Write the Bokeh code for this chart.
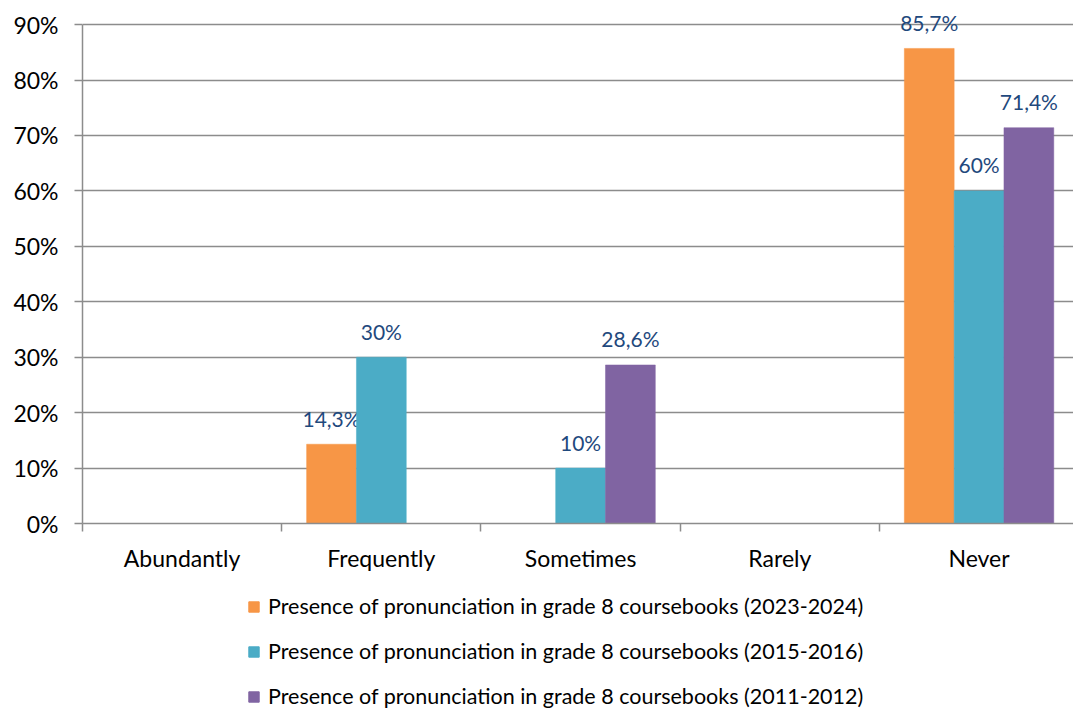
from bokeh.plotting import figure
from bokeh.layouts import column
from bokeh.models import Range1d, FixedTicker, Legend, LegendItem, ColumnDataSource
from bokeh.core.properties import value
from bokeh.embed import file_html
from bokeh.resources import INLINE

# Frequency categories on the x axis
categories = ["Abundantly", "Frequently", "Sometimes", "Rarely", "Never"]

# Share of coursebooks (%) per frequency category
share_2023_2024 = [0, 14.3, 0, 0, 85.7]
share_2015_2016 = [0, 30, 10, 0, 60]
share_2011_2012 = [0, 0, 28.6, 0, 71.4]

series_labels = [
    "Presence of pronunciation in grade 8 coursebooks (2023-2024)",
    "Presence of pronunciation in grade 8 coursebooks (2015-2016)",
    "Presence of pronunciation in grade 8 coursebooks (2011-2012)",
]
series_values = [share_2023_2024, share_2015_2016, share_2011_2012]
series_colors = ["#F79646", "#4BACC6", "#8064A2"]

y_ticks = [0, 10, 20, 30, 40, 50, 60, 70, 80, 90]

FONT = "Lato"
GRID = "#8C8C8C"
LABEL_COLOR = "#1F497D"
BAR_W = 0.25

p = figure(
    width=1073, height=590,
    x_range=Range1d(0, 4.974), y_range=Range1d(0, 92),
    output_backend="svg", toolbar_location=None,
    min_border_top=13, min_border_left=82, min_border_right=0, min_border_bottom=67,
    outline_line_color=None, background_fill_color="white", border_fill_color="white",
)

# y axis: percentages, line only up to the top tick
p.yaxis.ticker = FixedTicker(ticks=y_ticks, minor_ticks=[])
p.yaxis.bounds = (0, 90)
p.yaxis.major_label_overrides = {t: f"{t}%" for t in y_ticks}
p.yaxis.major_tick_out = 8
p.yaxis.major_tick_in = 0
p.yaxis.major_tick_line_color = GRID
p.yaxis.major_tick_line_width = 1.5
p.yaxis.axis_line_color = GRID
p.yaxis.axis_line_width = 1.5
p.yaxis.major_label_standoff = 16
p.yaxis.major_label_text_font = FONT
p.yaxis.major_label_text_font_size = "23px"
p.yaxis.major_label_text_color = "black"

# x axis: category names centred, tick marks on the boundaries
centers = [i + 0.5 for i in range(len(categories))]
p.xaxis.ticker = FixedTicker(ticks=centers, minor_ticks=list(range(len(categories) + 1)))
p.xaxis.major_label_overrides = {c: name for c, name in zip(centers, categories)}
p.xaxis.major_tick_out = 0
p.xaxis.major_tick_in = 0
p.xaxis.minor_tick_out = 8
p.xaxis.minor_tick_in = 0
p.xaxis.minor_tick_line_color = GRID
p.xaxis.minor_tick_line_width = 1.5
p.xaxis.axis_line_color = GRID
p.xaxis.axis_line_width = 1.5
p.xaxis.major_label_standoff = 12
p.xaxis.major_label_text_font = FONT
p.xaxis.major_label_text_font_size = "23px"
p.xaxis.major_label_text_color = "black"

p.xgrid.grid_line_color = None
p.ygrid.ticker = FixedTicker(ticks=y_ticks, minor_ticks=[])
p.ygrid.grid_line_color = GRID
p.ygrid.grid_line_width = 1.5

for k, (vals, color) in enumerate(zip(series_values, series_colors)):
    xs = [c + (k - 1) * BAR_W for c in centers]
    src = ColumnDataSource(dict(x=xs, top=vals))
    p.vbar(x="x", top="top", width=BAR_W, source=src,
           fill_color=color, line_color=color, line_width=0.5)

    # value labels for non-zero bars
    lx = [x for x, v in zip(xs, vals) if v > 0]
    ly = [v for v in vals if v > 0]
    lt = [f"{v:g}".replace(".", ",") + "%" for v in vals if v > 0]
    p.text(x=lx, y=ly, text=lt, text_align="center", text_baseline="alphabetic",
           y_offset=-26, text_font=value(FONT), text_font_size="21px",
           text_color=LABEL_COLOR)

# Legend strip beneath the chart
leg = figure(
    width=1073, height=119, x_range=Range1d(0, 1), y_range=Range1d(0, 1),
    output_backend="svg", toolbar_location=None,
    x_axis_type=None, y_axis_type=None,
    min_border=0, outline_line_color=None,
)
leg.xgrid.grid_line_color = None
leg.ygrid.grid_line_color = None

items = []
for color, name in zip(series_colors, series_labels):
    # swatch renderer kept outside the visible range; only its legend entry shows
    r = leg.vbar(x=[5], top=[5], bottom=[4], width=0.1, fill_color=color, line_color=color)
    items.append(LegendItem(label=name, renderers=[r]))

legend = Legend(
    items=items, orientation="vertical", location=(165, 0),
    glyph_width=13, glyph_height=13, label_standoff=8,
    label_text_font=FONT, label_text_font_size="21.5px", label_text_color="black",
    spacing=19, padding=0, margin=0,
    border_line_color=None, background_fill_alpha=0,
)
leg.add_layout(legend, "center")

open("out.html", "w").write(file_html(column(p, leg, spacing=0), INLINE))
